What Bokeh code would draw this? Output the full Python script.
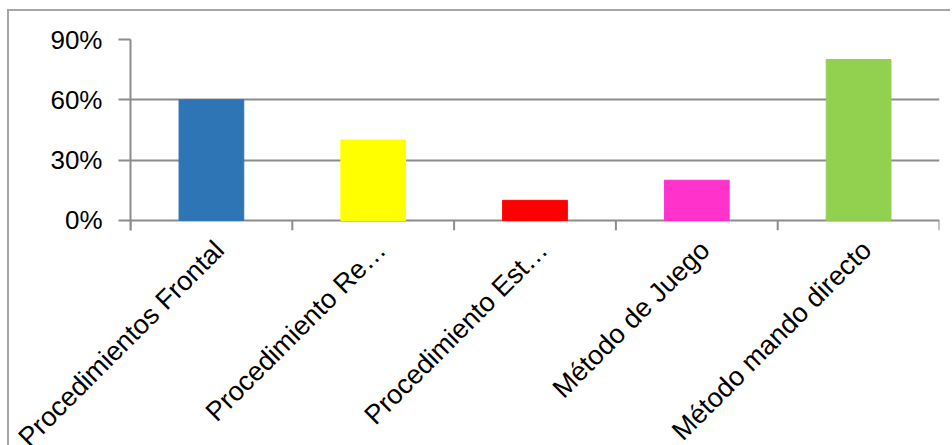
import math
from bokeh.plotting import figure
from bokeh.models import (Range1d, FixedTicker, NumeralTickFormatter, ColumnDataSource,
                          LinearAxis)
from bokeh.embed import file_html
from bokeh.resources import INLINE

categories = ["Procedimientos Frontal", "Procedimiento Re…", "Procedimiento Est…",
              "Método de Juego", "Método mando directo"]
values = [0.60, 0.40, 0.10, 0.20, 0.80]
colors = ["#2E75B6", "#FFFF00", "#FF0000", "#FF33CC", "#92D050"]
y_ticks = [0.0, 0.3, 0.6, 0.9]

GRAY = "#8c8c8c"
N = len(categories)
LABEL_SHIFT = 0.05  # Excel-style label anchoring, in category units
centers = [i + 0.5 for i in range(N)]
bounds = list(range(N + 1))

p = figure(x_range=Range1d(0, N), y_range=Range1d(-0.05, 0.9),
           width=943, height=470, output_backend="svg", toolbar_location=None,
           min_border_left=121, min_border_top=28, min_border_right=13,
           min_border_bottom=251,
           styles={"margin-left": "7px", "margin-top": "9px",
                   "border-left": "2px solid #a6a6a6", "border-top": "2px solid #a6a6a6"})
p.outline_line_color = None
p.background_fill_color = "white"

src = ColumnDataSource(dict(x=centers, top=values, color=colors, name=categories))
p.vbar(x="x", top="top", width=0.4, color="color", source=src)

# category boundary ticks below the 0% line
tick_src = ColumnDataSource(dict(x=bounds, y0=[0.0] * (N + 1), y1=[-0.05] * (N + 1)))
p.segment(x0="x", x1="x", y0="y0", y1="y1", line_color=GRAY, line_width=2, source=tick_src)

p.yaxis.ticker = FixedTicker(ticks=y_ticks)
p.yaxis.formatter = NumeralTickFormatter(format="0%")
p.yaxis.major_tick_out = 12
p.yaxis.major_tick_in = 0
p.yaxis.minor_tick_line_color = None
p.yaxis.axis_line_color = GRAY
p.yaxis.axis_line_width = 2
p.yaxis.major_tick_line_color = GRAY
p.yaxis.major_tick_line_width = 2
p.yaxis.major_label_standoff = 16
p.yaxis.major_label_text_font = "Liberation Sans"
p.yaxis.major_label_text_font_size = "26px"
p.yaxis.major_label_text_color = "#000000"

# the default x axis is hidden; a slightly shifted axis carries the category labels
p.xaxis.visible = False
p.extra_x_ranges = {"lab": Range1d(-LABEL_SHIFT, N - LABEL_SHIFT)}
lab_axis = LinearAxis(x_range_name="lab", ticker=FixedTicker(ticks=centers),
                      major_label_overrides={c: name for c, name in zip(centers, categories)})
lab_axis.axis_line_color = None
lab_axis.major_tick_line_color = None
lab_axis.minor_tick_line_color = None
lab_axis.major_tick_out = 0
lab_axis.major_tick_in = 0
lab_axis.major_label_orientation = math.pi / 4
lab_axis.major_label_standoff = 15
lab_axis.major_label_text_font = "Liberation Sans"
lab_axis.major_label_text_font_size = "27px"
lab_axis.major_label_text_color = "#000000"
p.add_layout(lab_axis, "below")

p.xgrid.grid_line_color = None
p.ygrid.ticker = FixedTicker(ticks=y_ticks)
p.ygrid.grid_line_color = GRAY
p.ygrid.grid_line_width = 2

open("out.html", "w").write(file_html(p, INLINE))
